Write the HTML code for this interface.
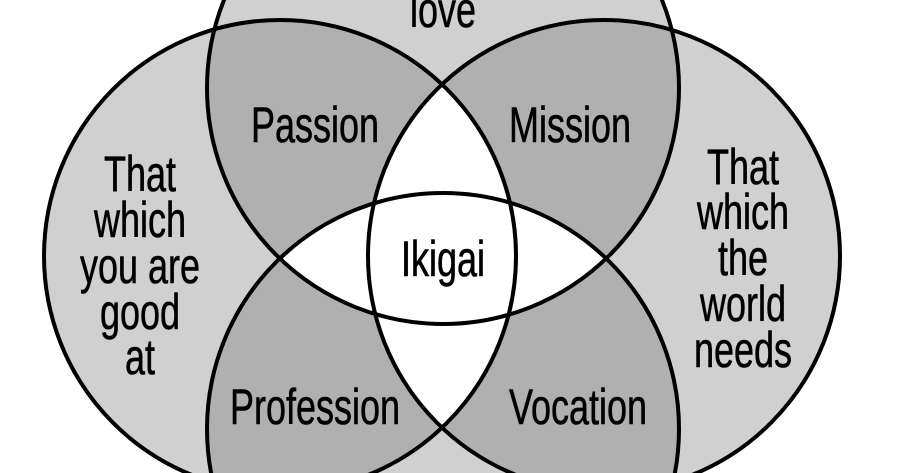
<!DOCTYPE html>
<html><head><meta charset="utf-8"><style>
html,body{margin:0;padding:0;background:#fff;width:900px;height:473px;overflow:hidden;}
svg{display:block;}
text{font-family:"Liberation Sans",sans-serif;font-size:50px;fill:#000;text-anchor:middle;stroke:#000;stroke-width:0.6;}
</style></head><body>
<svg width="900" height="473" viewBox="0 0 900 473" xmlns="http://www.w3.org/2000/svg">
<defs>
<clipPath id="T"><circle cx="443" cy="88" r="236"/></clipPath>
<clipPath id="B"><circle cx="443" cy="429" r="236"/></clipPath>
<clipPath id="L"><circle cx="280" cy="256" r="236"/></clipPath>
<clipPath id="R"><circle cx="604" cy="256" r="236"/></clipPath>
</defs>
<rect width="900" height="473" fill="#fff"/>
<g fill="#d0d0d0">
<circle cx="443" cy="88" r="236"/>
<circle cx="443" cy="429" r="236"/>
<circle cx="280" cy="256" r="236"/>
<circle cx="604" cy="256" r="236"/>
</g>
<g fill="#b0b0b0">
<g clip-path="url(#T)"><circle cx="280" cy="256" r="236"/><circle cx="604" cy="256" r="236"/></g>
<g clip-path="url(#B)"><circle cx="280" cy="256" r="236"/><circle cx="604" cy="256" r="236"/></g>
</g>
<g fill="#fff">
<g clip-path="url(#T)"><circle cx="443" cy="429" r="236"/></g>
<g clip-path="url(#L)"><circle cx="604" cy="256" r="236"/></g>
</g>
<g fill="none" stroke="#000" stroke-width="4">
<circle cx="443" cy="88" r="236"/>
<circle cx="443" cy="429" r="236"/>
<circle cx="280" cy="256" r="236"/>
<circle cx="604" cy="256" r="236"/>
</g>
<text transform="translate(443,27) scale(0.72,1)">love</text>
<text transform="translate(315,142) scale(0.72,1)">Passion</text>
<text transform="translate(570,142) scale(0.72,1)">Mission</text>
<text transform="translate(443,276) scale(0.72,1)">Ikigai</text>
<text transform="translate(315,424) scale(0.72,1)">Profession</text>
<text transform="translate(578,424) scale(0.72,1)">Vocation</text>
<text transform="translate(140,191) scale(0.72,1)">That</text>
<text transform="translate(140,237) scale(0.72,1)">which</text>
<text transform="translate(140,283) scale(0.72,1)">you are</text>
<text transform="translate(140,329) scale(0.72,1)">good</text>
<text transform="translate(140,374) scale(0.72,1)">at</text>
<text transform="translate(743,184) scale(0.72,1)">That</text>
<text transform="translate(743,229) scale(0.72,1)">which</text>
<text transform="translate(743,275) scale(0.72,1)">the</text>
<text transform="translate(743,321) scale(0.72,1)">world</text>
<text transform="translate(743,367) scale(0.72,1)">needs</text>
</svg>
</body></html>
